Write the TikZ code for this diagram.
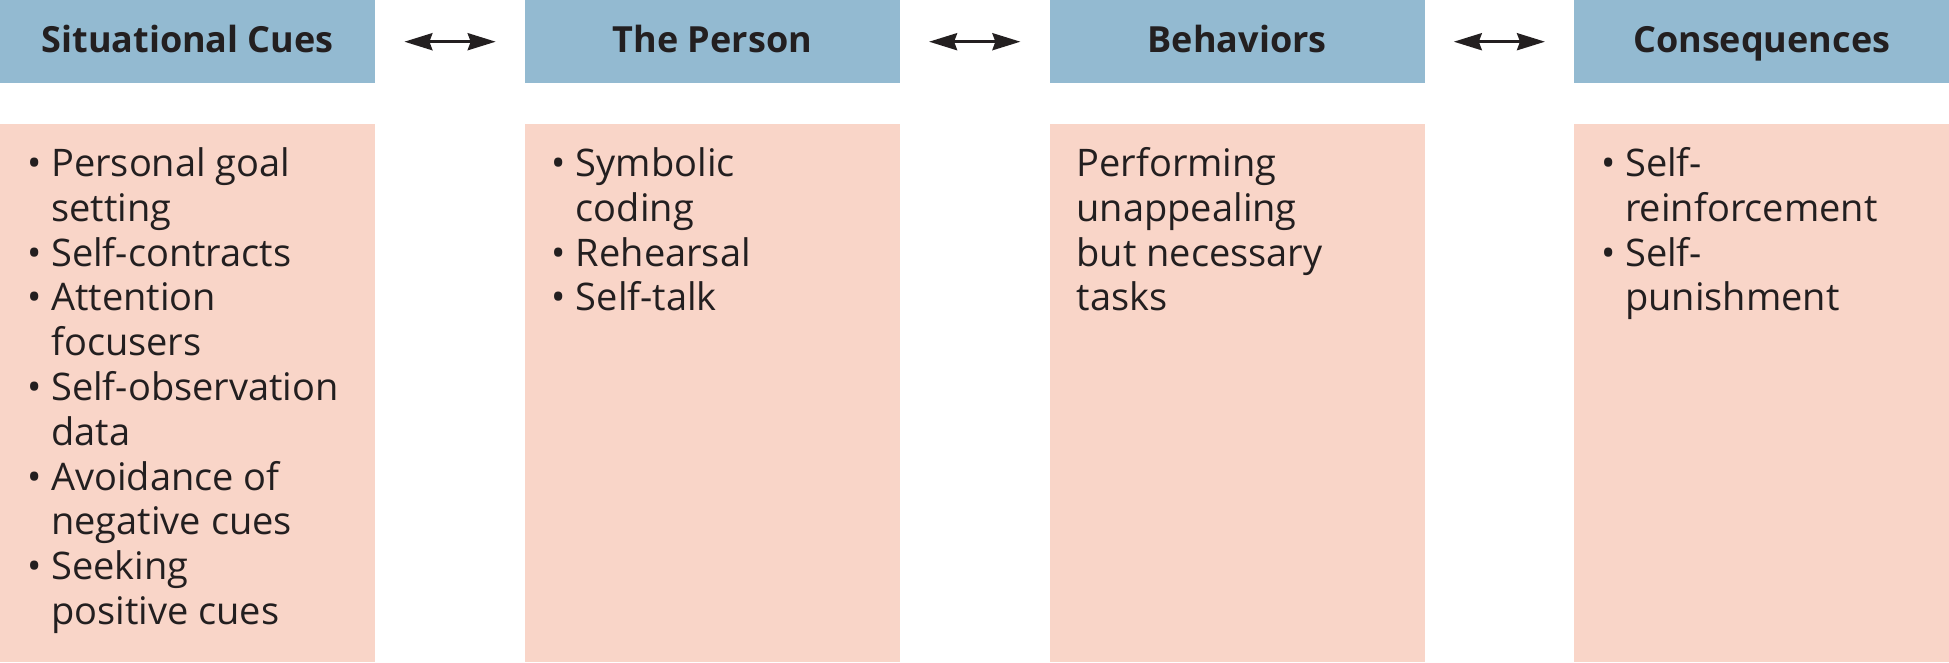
\documentclass[tikz,border=0pt]{standalone}
\usepackage{fontspec}
\setmainfont{Open Sans}
\usetikzlibrary{arrows.meta}
\definecolor{hdr}{HTML}{93BAD1}
\definecolor{bdy}{HTML}{F9D5C8}
\definecolor{ink}{HTML}{231F20}
\newcommand\bul{\makebox[24pt][l]{•}}
\newcommand\ind{\hspace*{24pt}}
\begin{document}
\begin{tikzpicture}[x=1pt,y=1pt,
 hbox/.style={fill=hdr, minimum width=375pt, minimum height=83pt, inner sep=0, text height=28pt, text depth=7pt, anchor=north west, font=\fontsize{36}{40}\selectfont\bfseries, text=ink},
 bbox/.style={fill=bdy, minimum width=375pt, minimum height=538pt, anchor=north west, inner sep=0},
 txt/.style={anchor=north west, inner sep=0, text=ink, font=\fontsize{38}{44.8}\selectfont, align=left},
 link/.style={{Stealth[length=28pt,width=17pt,inset=3pt]}-{Stealth[length=28pt,width=17pt,inset=3pt]}, line width=3pt, draw=ink}]
\useasboundingbox (0,0) rectangle (1949,-662);
\node[hbox] (h1) at (0,0) {Situational Cues};
\node[hbox] (h2) at (524.7,0) {The Person};
\node[hbox] (h3) at (1049.4,0) {Behaviors};
\node[hbox] (h4) at (1574,0) {Consequences};
\node[bbox] (b1) at (0,-124) {};
\node[bbox] (b2) at (524.7,-124) {};
\node[bbox] (b3) at (1049.4,-124) {};
\node[bbox] (b4) at (1574,-124) {};
\node[txt] (t1) at ([xshift=27pt,yshift=-21pt]b1.north west) {\begin{tabular}{@{}l@{}}
\bul Personal goal\\ \ind setting\\ \bul Self-contracts\\ \bul Attention\\ \ind focusers\\
\bul Self-observation\\ \ind data\\ \bul Avoidance of\\ \ind negative cues\\ \bul Seeking\\ \ind positive cues
\end{tabular}};
\node[txt] (t2) at ([xshift=27pt,yshift=-21pt]b2.north west) {\begin{tabular}{@{}l@{}}
\bul Symbolic\\ \ind coding\\ \bul Rehearsal\\ \bul Self-talk
\end{tabular}};
\node[txt] (t3) at ([xshift=27pt,yshift=-21pt]b3.north west) {\begin{tabular}{@{}l@{}}
Performing\\ unappealing\\ but necessary\\ tasks
\end{tabular}};
\node[txt] (t4) at ([xshift=27pt,yshift=-21pt]b4.north west) {\begin{tabular}{@{}l@{}}
\bul Self-\\ \ind reinforcement\\ \bul Self-\\ \ind punishment
\end{tabular}};
\draw[link] ([xshift=29pt]h1.east) -- ([xshift=-29pt]h2.west);
\draw[link] ([xshift=29pt]h2.east) -- ([xshift=-29pt]h3.west);
\draw[link] ([xshift=29pt]h3.east) -- ([xshift=-29pt]h4.west);
\end{tikzpicture}
\end{document}
